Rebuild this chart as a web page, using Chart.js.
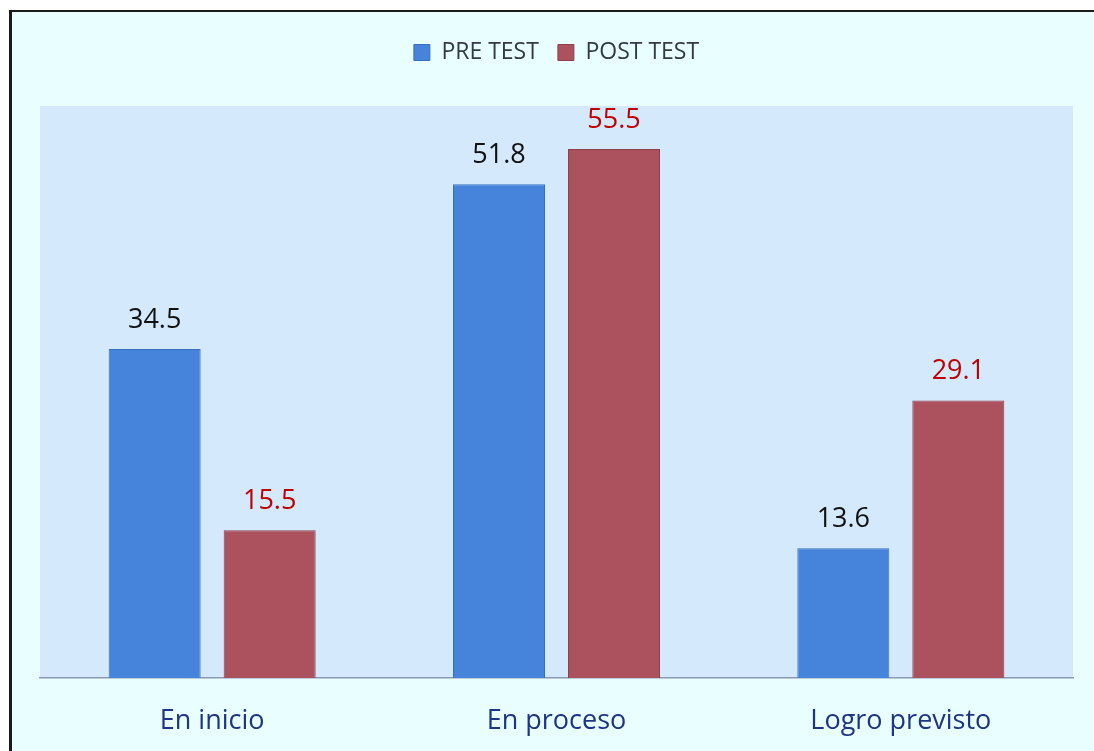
<!DOCTYPE html>
<html>
<head>
<meta charset="utf-8">
<script src="https://cdn.jsdelivr.net/npm/chart.js@4/dist/chart.umd.min.js"></script>
<style>
  html, body { margin: 0; padding: 0; background: #ffffff; overflow: hidden; width: 1094px; height: 751px; }
  #frame {
    position: absolute; left: 9px; top: 10px; width: 1082px; height: 739px;
    background: #e9fefe; border-left: 3px solid #1a1a1a; border-top: 2px solid #1a1a1a;
    border-right: 0; border-bottom: 0;
  }
  #wrap { position: absolute; left: 0; top: 0; width: 1094px; height: 751px; }
</style>
</head>
<body>
<div id="frame"></div>
<div id="wrap"><canvas id="chart"></canvas></div>
<script>
/* Pre/post test chart */

const categories = ['En inicio', 'En proceso', 'Logro previsto'];
const preTest  = [34.5, 51.8, 13.6];
const postTest = [15.5, 55.5, 29.1];
const seriesNames = ['PRE TEST', 'POST TEST'];
const labelColors = ['#111111', '#c00000'];

const FONT = "'Open Sans', 'Noto Sans', sans-serif";

// light blue plot area behind bars
const plotBg = {
  id: 'plotBg',
  beforeDraw(chart) {
    const { ctx, chartArea: a } = chart;
    ctx.save();
    ctx.fillStyle = '#d5e9fc';
    ctx.fillRect(a.left, a.top, a.right - a.left, a.bottom - a.top);
    ctx.restore();
  }
};

// extra room between legend and plot
const legendGap = {
  id: 'legendGap',
  beforeInit(chart) {
    const lg = chart.legend;
    if (!lg) return;
    const fit = lg.fit;
    lg.fit = function () {
      fit.call(this);
      this.height += 32;
    };
  }
};

// value labels above each bar
const valueLabels = {
  id: 'valueLabels',
  afterDatasetsDraw(chart) {
    const ctx = chart.ctx;
    ctx.save();
    ctx.font = '27px ' + FONT;
    ctx.textAlign = 'center';
    ctx.textBaseline = 'middle';
    chart.data.datasets.forEach((ds, i) => {
      ctx.fillStyle = labelColors[i];
      chart.getDatasetMeta(i).data.forEach((bar, j) => {
        ctx.fillText(ds.data[j].toFixed(1), bar.x, bar.y - 29);
      });
    });
    ctx.restore();
  }
};

new Chart(document.getElementById('chart'), {
  type: 'bar',
  data: {
    labels: categories,
    datasets: [
      { label: seriesNames[0], data: preTest,  backgroundColor: '#4683da', borderColor: '#3a6fbd', borderWidth: 1 },
      { label: seriesNames[1], data: postTest, backgroundColor: '#ab525e', borderColor: '#8e3f4a', borderWidth: 1 }
    ]
  },
  options: {
    responsive: true,
    maintainAspectRatio: false,
    animation: false,
    categoryPercentage: 0.668,
    barPercentage: 0.8,
    layout: { padding: { left: 40, right: 21, top: 22, bottom: 15 } },
    plugins: {
      legend: {
        position: 'top',
        labels: {
          font: { family: FONT, size: 23 },
          color: '#333a46',
          boxWidth: 16, boxHeight: 16,
          padding: 19
        }
      },
      tooltip: { enabled: false }
    },
    scales: {
      y: { display: false, min: 0, max: 60 },
      x: {
        grid: { display: false, drawTicks: false },
        border: { color: '#8a9ab8', width: 1.5 },
        ticks: { font: { family: FONT, size: 27 }, color: '#1c3585', padding: 27 },
        afterFit(scale) { scale.height = 58; }
      }
    }
  },
  plugins: [plotBg, legendGap, valueLabels]
});
</script>
</body>
</html>
